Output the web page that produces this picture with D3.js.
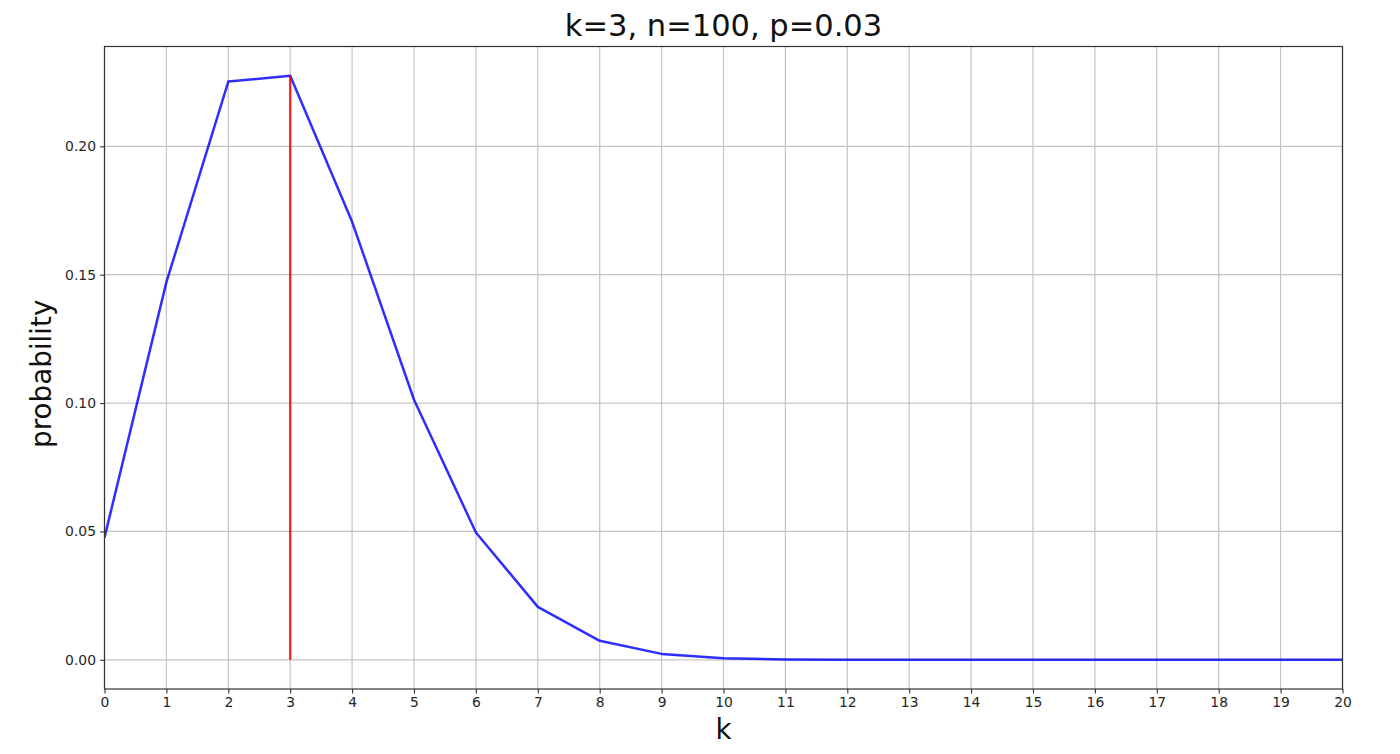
<!DOCTYPE html>
<html>
<head>
<meta charset="utf-8">
<script src="https://cdn.jsdelivr.net/npm/d3@7"></script>
<style>
  html, body { margin: 0; padding: 0; background: #fff; }
  svg { display: block; }
  text { font-family: "DejaVu Sans", sans-serif; }
</style>
</head>
<body>
<svg id="chart" width="1400" height="754"></svg>
<script>
// Data: binomial probabilities for k = 0..20 (n=100, p=0.03)
const ks = [0,1,2,3,4,5,6,7,8,9,10,11,12,13,14,15,16,17,18,19,20];
const probs = [0.0476, 0.1471, 0.2252, 0.2275, 0.1706, 0.1013, 0.0496, 0.0206, 0.0074, 0.0023,
               0.0006, 0.00016, 0.00004, 0.00001, 0, 0, 0, 0, 0, 0, 0];
const markK = 3;
const markP = 0.2275;
const yTicks = [0.00, 0.05, 0.10, 0.15, 0.20];
const xTicks = ks;
const titleText = "k=3, n=100, p=0.03";
const xLabel = "k";
const yLabel = "probability";

const svg = d3.select("#chart");
const L = 104.5, R = 1342.5, T = 46.5, B = 689;

const x = d3.scaleLinear().domain([0, 20]).range([L, R]);
const y = d3.scaleLinear().domain([-0.011375, 0.238875]).range([B, T]);

// grid
const g = svg.append("g");
g.selectAll(".vg").data(xTicks).enter().append("line")
  .attr("x1", d => x(d)).attr("x2", d => x(d)).attr("y1", T).attr("y2", B)
  .attr("stroke", "#c4c4c4").attr("stroke-width", 1.2);
g.selectAll(".hg").data(yTicks).enter().append("line")
  .attr("x1", L).attr("x2", R).attr("y1", d => y(d)).attr("y2", d => y(d))
  .attr("stroke", "#c4c4c4").attr("stroke-width", 1.2);

// blue line
const line = d3.line().x((d, i) => x(ks[i])).y(d => y(d));
svg.append("clipPath").attr("id", "clip").append("rect")
  .attr("x", L).attr("y", T).attr("width", R - L).attr("height", B - T);
svg.append("path").datum(probs)
  .attr("d", line).attr("fill", "none")
  .attr("stroke", "rgba(0,0,255,0.82)").attr("stroke-width", 2.5)
  .attr("stroke-linejoin", "round")
  .attr("clip-path", "url(#clip)");

// red vertical line
svg.append("line")
  .attr("x1", x(markK)).attr("x2", x(markK))
  .attr("y1", y(0)).attr("y2", y(markP))
  .attr("stroke", "rgba(255,0,0,0.82)").attr("stroke-width", 2.5);

// axes
const xAxis = d3.axisBottom(x).tickValues(xTicks).tickSize(4.5).tickPadding(3.5).tickFormat(d3.format("d"));
const yAxis = d3.axisLeft(y).tickValues(yTicks).tickSize(4.5).tickPadding(4).tickFormat(d3.format(".2f"));

const gx = svg.append("g").attr("transform", `translate(0,${B})`).call(xAxis);
const gy = svg.append("g").attr("transform", `translate(${L},0)`).call(yAxis);
[gx, gy].forEach(a => {
  a.select(".domain").remove();
  a.selectAll("line").attr("stroke", "#333").attr("stroke-width", 1.1);
  a.selectAll("text").attr("fill", "#262626").style("font-size", "13.9px")
    .style("font-family", "'DejaVu Sans', sans-serif");
});

// frame
svg.append("rect").attr("x", L).attr("y", T).attr("width", R - L).attr("height", B - T)
  .attr("fill", "none").attr("stroke", "#333").attr("stroke-width", 1.2);

// title
svg.append("text").attr("x", (L + R) / 2).attr("y", 36)
  .attr("text-anchor", "middle").style("font-size", "30.5px").attr("fill", "#111")
  .text(titleText);

// axis labels
svg.append("text").attr("x", (L + R) / 2).attr("y", 739)
  .attr("text-anchor", "middle").style("font-size", "27.8px").attr("fill", "#111")
  .text(xLabel);
svg.append("text")
  .attr("transform", `translate(51,${(T + B) / 2 + 6}) rotate(-90)`)
  .attr("text-anchor", "middle").style("font-size", "27.8px").attr("fill", "#111")
  .text(yLabel);
</script>
</body>
</html>
